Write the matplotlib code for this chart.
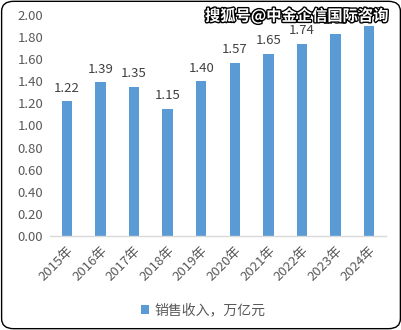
import matplotlib.pyplot as plt
import matplotlib.patheffects as pe
from matplotlib.patches import FancyBboxPatch

plt.rcParams['font.family'] = ['Noto Sans CJK SC', 'DejaVu Sans']

# data
years = ['2015年', '2016年', '2017年', '2018年', '2019年',
         '2020年', '2021年', '2022年', '2023年', '2024年']
revenue = [1.22, 1.39, 1.35, 1.15, 1.40, 1.57, 1.65, 1.74, 1.83, 1.90]
yticks = [0.0, 0.2, 0.4, 0.6, 0.8, 1.0, 1.2, 1.4, 1.6, 1.8, 2.0]
series_name = '销售收入，万亿元'
watermark = '搜狐号@中金企信国际咨询'

fig = plt.figure(figsize=(4.02, 3.3), dpi=100)
ax = fig.add_axes([50 / 402, 1 - 236 / 330, 336 / 402, 221 / 330])

x = range(len(years))
bars = ax.bar(x, revenue, width=0.31, color='#5B9BD5', label=series_name, zorder=2)
for xi, v in zip(x, revenue):
    ax.text(xi, v + 0.06, '%.2f' % v, ha='center', va='bottom',
            fontsize=9.5, color='#404040')

ax.set_xlim(-0.5, 9.5)
ax.set_ylim(0, 2.0)
ax.set_yticks(yticks)
ax.set_yticklabels(['%.2f' % t for t in yticks])
ax.set_xticks(list(x))
ax.set_xticklabels(years, rotation=45, ha='right', rotation_mode='anchor')
ax.tick_params(axis='both', length=0, labelsize=9.5, labelcolor='#595959')
ax.tick_params(axis='y', pad=5)
ax.tick_params(axis='x', pad=6)
for s in ['top', 'right', 'left']:
    ax.spines[s].set_visible(False)
ax.spines['bottom'].set_color('#D9D9D9')
ax.spines['bottom'].set_linewidth(1)

leg = fig.legend(handles=[bars], labels=[series_name], loc='center',
                 bbox_to_anchor=(0.505, 0.06), frameon=False, fontsize=10,
                 handlelength=0.6, handleheight=0.6, handletextpad=0.4)
for t in leg.get_texts():
    t.set_color('#595959')

# watermark, drawn over the top labels like in the source image
fig.text(205 / 402, 1 - 16 / 330, watermark, ha='left', va='center',
         fontsize=11, fontweight='bold', color='white', zorder=10,
         path_effects=[pe.withStroke(linewidth=2, foreground='black')])

# rounded frame
box = FancyBboxPatch((0.004, 0.004), 0.992, 0.992,
                     boxstyle='round,pad=0,rounding_size=0.03',
                     transform=fig.transFigure, fill=False,
                     edgecolor='black', linewidth=1)
fig.patches.append(box)

fig.savefig('out.png', dpi=100)
